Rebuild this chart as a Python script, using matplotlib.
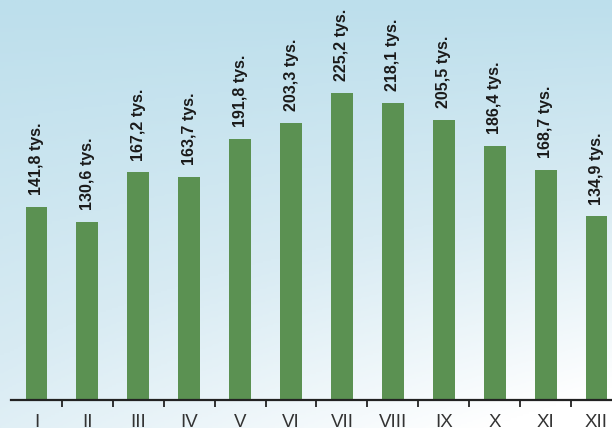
import numpy as np
import matplotlib
matplotlib.use("Agg")
import matplotlib.pyplot as plt
from matplotlib.colors import LinearSegmentedColormap

# -------------------------
# Data
# -------------------------
months = ["I", "II", "III", "IV", "V", "VI", "VII", "VIII", "IX", "X", "XI", "XII"]
values = [141.8, 130.6, 167.2, 163.7, 191.8, 203.3, 225.2, 218.1, 205.5, 186.4, 168.7, 134.9]
labels = [f"{v:.1f}".replace(".", ",") + " tys." for v in values]

W, H = 612, 428
fig = plt.figure(figsize=(W / 100, H / 100), dpi=100)

# -------------------------
# Background gradient (top-left blue -> bottom-right white)
# -------------------------
bg = fig.add_axes([0, 0, 1, 1])
yy, xx = np.mgrid[0:1:200j, 0:1:300j]
t = np.clip(yy * (0.6 + 0.5 * xx), 0, 1)
cmap_bg = LinearSegmentedColormap.from_list("bg", ["#bddfec", "#d8ebf3", "#ffffff"])
bg.imshow(t, cmap=cmap_bg, aspect="auto", extent=[0, 1, 0, 1], origin="upper")
bg.set_axis_off()

# -------------------------
# Bars
# -------------------------
ax = fig.add_axes([11 / W, 28 / H, 611 / W, 400 / H])
ax.patch.set_alpha(0)
x = np.arange(len(months))
ax.bar(x, values, width=0.43, color="#5b9152", zorder=2)

ax.set_xlim(-0.5, 11.5)
ax.set_ylim(0, 400 / 1.363)

for xi, v, lab in zip(x, values, labels):
    ax.text(xi, v + 8.5, lab, rotation=90, ha="center", va="bottom",
            fontsize=11.5, fontweight="bold", family="Liberation Sans",
            color="#1a1a1a")

for s in ["top", "right", "left"]:
    ax.spines[s].set_visible(False)
ax.spines["bottom"].set_linewidth(1.6)
ax.spines["bottom"].set_color("#222222")

ax.set_yticks([])
ax.set_xticks(x)
ax.set_xticklabels(months, fontsize=13.5, family="Liberation Sans", color="#333333")
ax.tick_params(axis="x", length=0, pad=10)
ax.set_xticks(np.arange(0.5, 11.5, 1), minor=True)
ax.tick_params(axis="x", which="minor", length=5, width=1.3, color="#222222")

fig.savefig("out.png", dpi=100)
